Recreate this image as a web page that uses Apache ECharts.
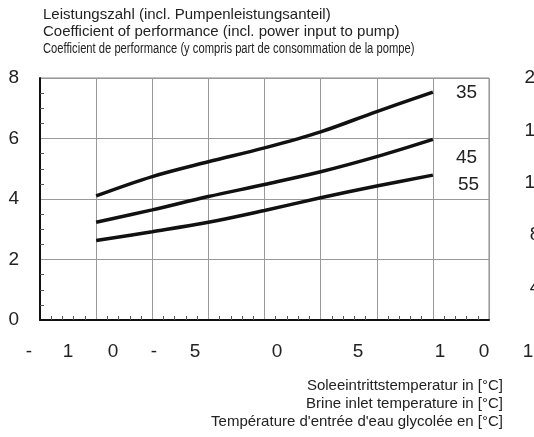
<!DOCTYPE html>
<html>
<head>
<meta charset="utf-8">
<script src="https://cdn.jsdelivr.net/npm/echarts@6/dist/echarts.min.js"></script>
<style>
  html, body { margin: 0; padding: 0; background: #fff; overflow: hidden; }
  #grafica { width: 534px; height: 437px; }
</style>
</head>
<body>
<div id="grafica"></div>
<script>
// Soleeintrittstemperatur (Gitterlinien 1..7)
let temperaturas = [-5, 0, 5, 10, 15, 20, 25];
// Leistungszahl je Vorlauftemperatur
let cop35 = [4.10, 4.74, 5.23, 5.69, 6.22, 6.89, 7.53];
let cop45 = [3.23, 3.64, 4.08, 4.48, 4.90, 5.40, 5.97];
let cop55 = [2.63, 2.92, 3.23, 3.62, 4.04, 4.43, 4.79];
let nombres = ['35', '45', '55'];

// Achsenbeschriftung (so wie im Original, zerstückelt)
let caracteresX = ['-', '1', '0', '-', '5', '0', '5', '1', '0', '1'];
let posicionesX = [29, 68, 113, 154, 195, 277, 358, 440, 484, 528];
let etiquetasDerecha = [4, 8, 12, 16, 20];

let titulos = [
  'Leistungszahl (incl. Pumpenleistungsanteil)',
  'Coefficient of performance (incl. power input to pump)',
  'Coefficient de performance (y compris part de consommation de la pompe)'
];
let textosEje = [
  'Soleeintrittstemperatur in [°C]',
  'Brine inlet temperature in [°C]',
  "Température d'entrée d'eau glycolée en [°C]"
];

function pares(valores) {
  return temperaturas.map((t, i) => [t, valores[i]]);
}

let chartDom = document.getElementById('grafica');
let myChart = echarts.init(chartDom, null, { renderer: 'canvas' });

let fuente = 'Liberation Sans, Arial, sans-serif';

let graficos = [];
caracteresX.forEach((c, i) => {
  graficos.push({
    type: 'text', x: posicionesX[i], y: 352,
    style: { text: c, fontSize: 19, fontFamily: fuente, fill: '#222', textAlign: 'center', textVerticalAlign: 'middle' }
  });
});
textosEje.forEach((t, i) => {
  graficos.push({
    type: 'text', x: 503, y: 386 + i * 18,
    style: { text: t, fontSize: 15, fontFamily: fuente, fill: '#222', textAlign: 'right', textVerticalAlign: 'middle' }
  });
});
graficos.push({
  type: 'text', x: 43, y: 15,
  style: { text: titulos[0], fontSize: 15, fontFamily: fuente, fill: '#222', textVerticalAlign: 'middle' }
});
graficos.push({
  type: 'text', x: 43, y: 32,
  style: { text: titulos[1], fontSize: 15, fontFamily: fuente, fill: '#222', textVerticalAlign: 'middle' }
});
graficos.push({
  type: 'text', x: 43, y: 49, scaleX: 0.8,
  style: { text: titulos[2], fontSize: 14, fontFamily: fuente, fill: '#222', textVerticalAlign: 'middle' }
});

let offsets = [[15, 1], [15, 18], [17, 10]];
let series = [cop35, cop45, cop55].map((valores, i) => ({
  name: nombres[i],
  type: 'line',
  data: pares(valores),
  smooth: 0.35,
  symbol: 'none',
  lineStyle: { color: '#111', width: 3.5 },
  endLabel: {
    show: true, formatter: nombres[i], fontSize: 19, fontFamily: fuente,
    color: '#222', offset: offsets[i]
  }
}));

let option = {
  animation: false,
  backgroundColor: '#fff',
  grid: {
    left: 40, right: 45, top: 78, bottom: 117,
    containLabel: false, outerBoundsMode: 'none',
    show: true, borderColor: '#888', borderWidth: 1
  },
  xAxis: {
    type: 'value', min: -10, max: 30, interval: 5,
    axisLabel: { show: false },
    axisLine: { onZero: false, lineStyle: { color: '#111', width: 2 } },
    axisTick: { show: false },
    minorTick: { show: true, splitNumber: 5, length: -4, lineStyle: { color: '#555' } },
    splitLine: { show: true, lineStyle: { color: '#999', width: 1 } }
  },
  yAxis: [
    {
      type: 'value', min: 0, max: 8, interval: 2,
      axisLabel: { fontSize: 19, fontFamily: fuente, color: '#222', margin: 21 },
      axisLine: { show: true, onZero: false, lineStyle: { color: '#111', width: 2 } },
      axisTick: { show: false },
      minorTick: { show: true, splitNumber: 4, length: -4, lineStyle: { color: '#555' } },
      splitLine: { show: true, lineStyle: { color: '#999', width: 1 } }
    },
    {
      type: 'value', position: 'right', min: 1.5, max: 20,
      axisLabel: { customValues: etiquetasDerecha, fontSize: 19, fontFamily: fuente, color: '#222', margin: 46, align: 'center' },
      axisLine: { show: false },
      axisTick: { show: false },
      splitLine: { show: false }
    }
  ],
  graphic: graficos,
  series: series
};

myChart.setOption(option);
</script>
</body>
</html>
